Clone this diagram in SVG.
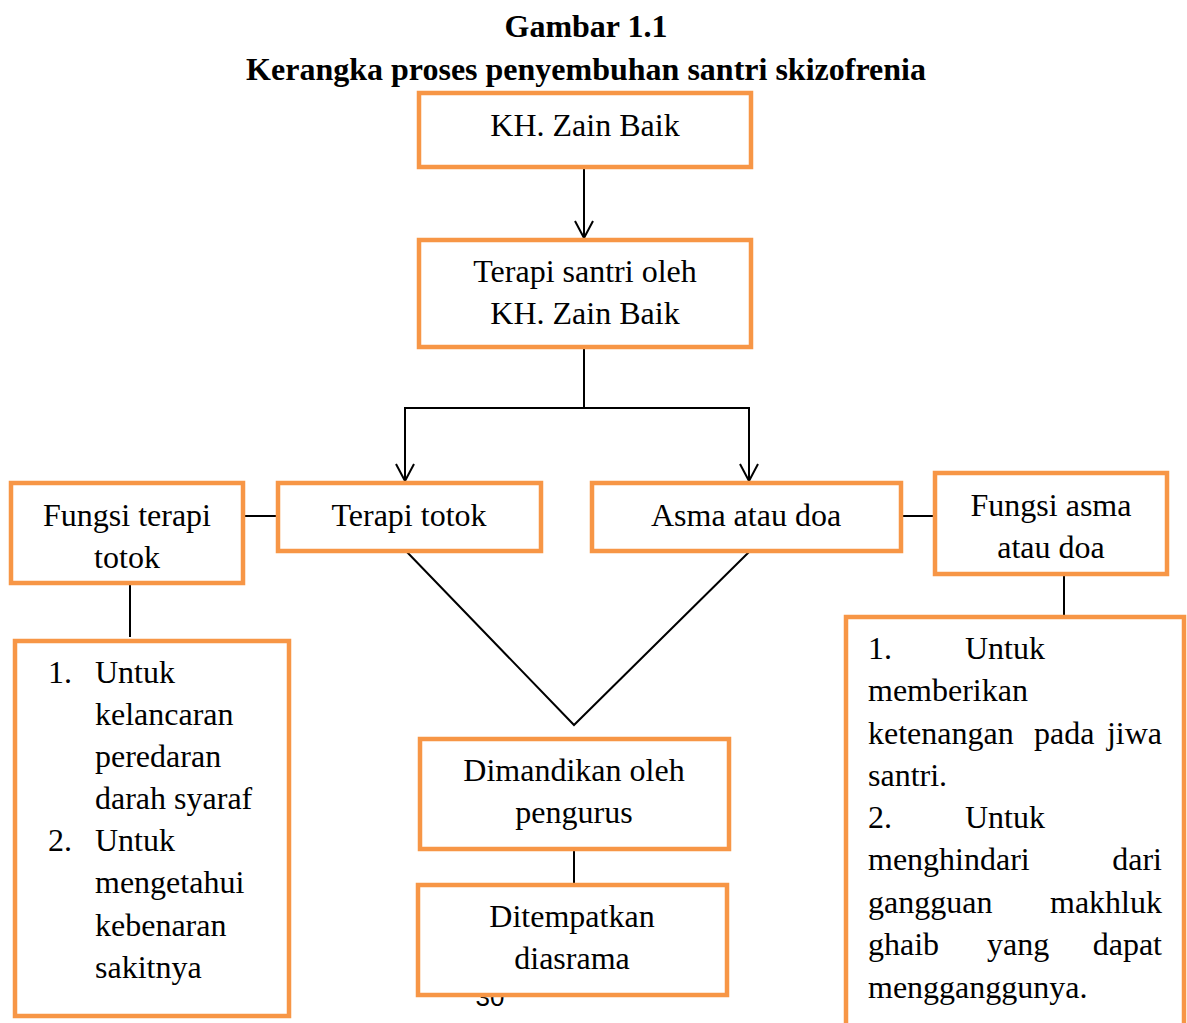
<svg xmlns="http://www.w3.org/2000/svg" width="1187" height="1023" viewBox="0 0 1187 1023">
<style>
.box{fill:#fff;stroke:#F79646;stroke-width:4.5}
.t{font-family:"Liberation Serif","Times New Roman",serif;font-size:32px;fill:#000}
.c{text-anchor:middle}
.e{text-anchor:end}
.b{font-weight:bold}
.ln{stroke:#000;stroke-width:2;fill:none}
</style>
<defs>
<marker id="ah" viewBox="0 0 20 20" refX="19" refY="10" markerWidth="20" markerHeight="20" markerUnits="userSpaceOnUse" orient="auto">
<path d="M1,1 L18,10 L1,19" fill="none" stroke="#000" stroke-width="2"/>
</marker>
</defs>
<rect width="1187" height="1023" fill="#fff"/>
<g id="title">
<text class="t c b" x="586" y="37">Gambar 1.1</text>
<text class="t c b" x="586" y="80">Kerangka proses penyembuhan santri skizofrenia</text>
</g>
<text id="page" x="490" y="1006" font-family="Liberation Sans, Arial, sans-serif" font-size="26" text-anchor="middle">30</text>
<g id="connectors">
<line class="ln" x1="584" y1="167" x2="584" y2="239" marker-end="url(#ah)"/>
<polyline class="ln" points="584,347 584,408"/>
<polyline class="ln" points="405,460 405,408 749,408 749,460"/>
<line class="ln" x1="405" y1="440" x2="405" y2="482" marker-end="url(#ah)"/>
<line class="ln" x1="749" y1="440" x2="749" y2="482" marker-end="url(#ah)"/>
<line class="ln" x1="243" y1="516" x2="278" y2="516"/>
<line class="ln" x1="901" y1="516" x2="935" y2="516"/>
<line class="ln" x1="130" y1="583" x2="130" y2="637"/>
<line class="ln" x1="1064" y1="574" x2="1064" y2="617"/>
<polyline class="ln" points="406,551 574,725 750,551"/>
<line class="ln" x1="574" y1="849" x2="574" y2="885"/>
</g>
<g id="n-kh">
<rect class="box" x="419" y="93" width="332" height="74"/>
<text class="t c" x="585" y="136">KH. Zain Baik</text>
</g>
<g id="n-terapi-santri">
<rect class="box" x="419" y="240" width="332" height="107"/>
<text class="t c" x="585" y="282">Terapi santri oleh</text>
<text class="t c" x="585" y="324">KH. Zain Baik</text>
</g>
<g id="n-totok">
<rect class="box" x="278" y="483" width="263" height="68"/>
<text class="t c" x="409" y="526">Terapi totok</text>
</g>
<g id="n-asma">
<rect class="box" x="592" y="483" width="309" height="68"/>
<text class="t c" x="746" y="526">Asma atau doa</text>
</g>
<g id="n-fungsi-totok">
<rect class="box" x="11" y="483" width="232" height="100"/>
<text class="t c" x="127" y="526">Fungsi terapi</text>
<text class="t c" x="127" y="568">totok</text>
</g>
<g id="n-fungsi-asma">
<rect class="box" x="935" y="473" width="232" height="101"/>
<text class="t c" x="1051" y="516">Fungsi asma</text>
<text class="t c" x="1051" y="558">atau doa</text>
</g>
<g id="n-list-left">
<rect class="box" x="15" y="641" width="274" height="375"/>
<text class="t" x="48" y="683">1.</text>
<text class="t" x="95" y="683">Untuk</text>
<text class="t" x="95" y="725">kelancaran</text>
<text class="t" x="95" y="767">peredaran</text>
<text class="t" x="95" y="809">darah syaraf</text>
<text class="t" x="48" y="851">2.</text>
<text class="t" x="95" y="851">Untuk</text>
<text class="t" x="95" y="893">mengetahui</text>
<text class="t" x="95" y="936">kebenaran</text>
<text class="t" x="95" y="978">sakitnya</text>
</g>
<g id="n-dimandikan">
<rect class="box" x="420" y="739" width="309" height="110"/>
<text class="t c" x="574" y="781">Dimandikan oleh</text>
<text class="t c" x="574" y="823">pengurus</text>
</g>
<g id="n-ditempatkan">
<rect class="box" x="418" y="885" width="309" height="110"/>
<text class="t c" x="572" y="927">Ditempatkan</text>
<text class="t c" x="572" y="969">diasrama</text>
</g>
<g id="n-list-right">
<rect class="box" x="846" y="617" width="338" height="420"/>
<text class="t" x="868" y="659">1.</text>
<text class="t" x="965" y="659">Untuk</text>
<text class="t" x="868" y="701">memberikan</text>
<text class="t" x="868" y="744">ketenangan</text>
<text class="t" x="1034" y="744">pada</text>
<text class="t e" x="1162" y="744">jiwa</text>
<text class="t" x="868" y="786">santri.</text>
<text class="t" x="868" y="828">2.</text>
<text class="t" x="965" y="828">Untuk</text>
<text class="t" x="868" y="870">menghindari</text>
<text class="t e" x="1162" y="870">dari</text>
<text class="t" x="868" y="913">gangguan</text>
<text class="t e" x="1162" y="913">makhluk</text>
<text class="t" x="868" y="955">ghaib</text>
<text class="t" x="987" y="955">yang</text>
<text class="t e" x="1162" y="955">dapat</text>
<text class="t" x="868" y="998">mengganggunya.</text>
</g>
</svg>
